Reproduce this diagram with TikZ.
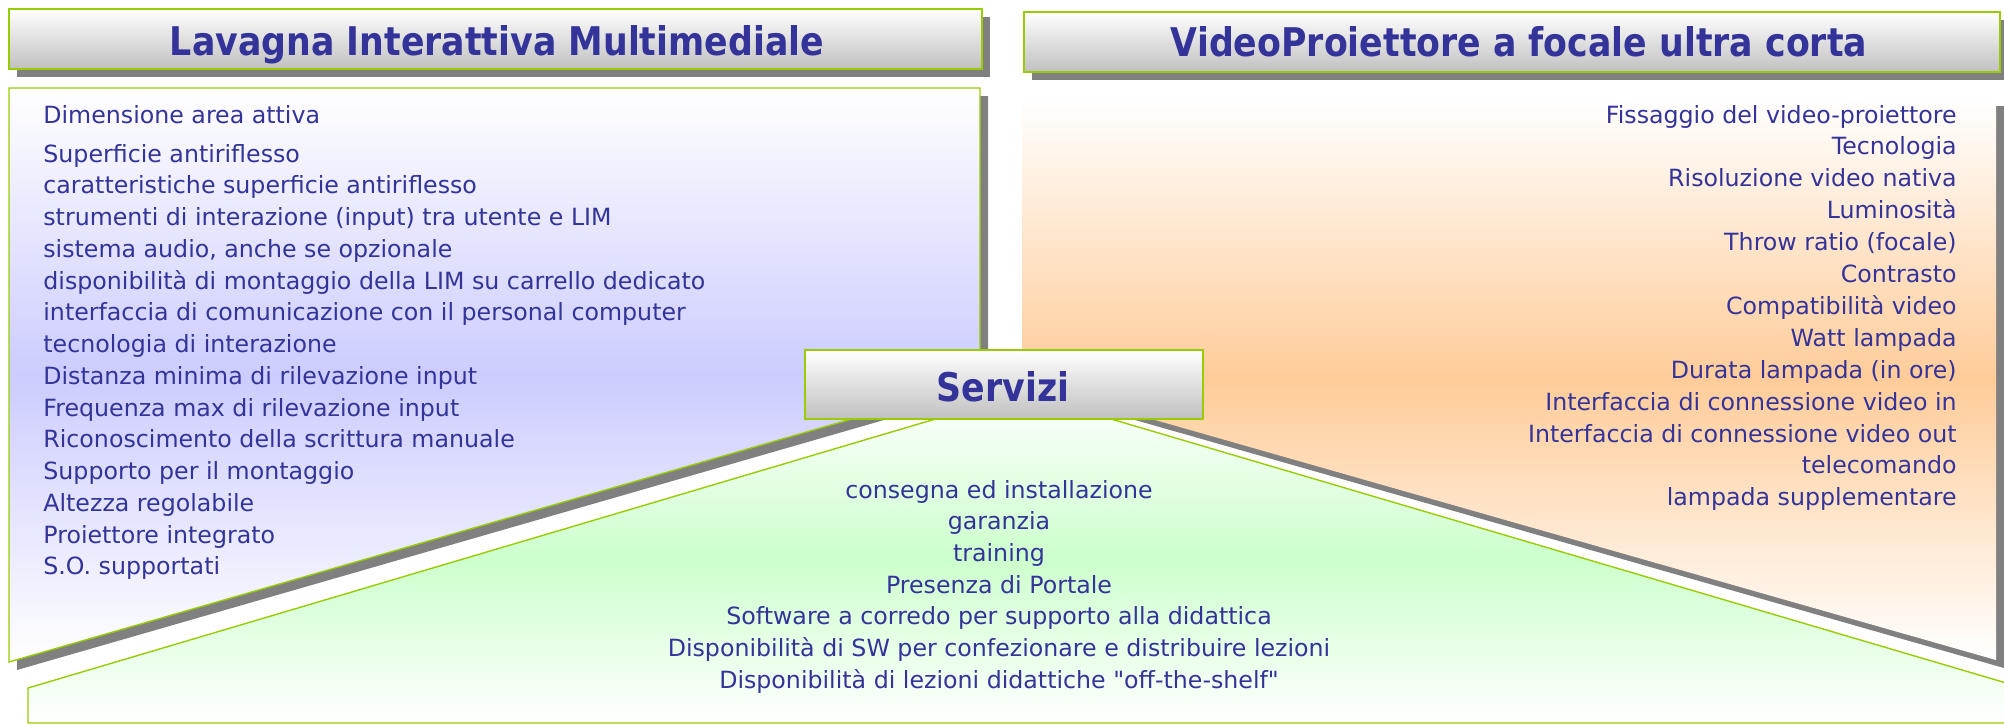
\documentclass[tikz,border=0pt]{standalone}
\usepackage{fontspec}
\setmainfont{DejaVu Sans}[Ligatures=TeXOff]
\newfontfamily\ttlfont[FakeStretch=0.88]{DejaVu Sans}
\usetikzlibrary{shadows}
\definecolor{lgreen}{HTML}{99CC00}
\definecolor{txt}{HTML}{333399}
\definecolor{lav}{HTML}{CCCCFF}
\definecolor{orng}{HTML}{FFCC99}
\definecolor{mint}{HTML}{CCFFCC}
\definecolor{shad}{HTML}{808080}
\definecolor{tgray}{HTML}{C0C0C0}
\begin{document}
\begin{tikzpicture}[x=0.5pt,y=-0.5pt,
  titlebox/.style={draw=lgreen, line width=0.7pt, top color=white, bottom color=tgray, inner sep=0pt},
  shadowed/.style={drop shadow={shadow xshift=4pt, shadow yshift=-4pt, fill=shad, opacity=1}},
  titletext/.style={text=txt, font=\ttlfont\bfseries\fontsize{19.75pt}{24pt}\selectfont, inner sep=0pt},
  item/.style={text=txt, font=\fontsize{11.85pt}{16pt}\selectfont, inner sep=0pt},
  panelline/.style={draw=lgreen, line width=0.7pt}
  ]
\useasboundingbox (0,0) rectangle (2004,725);

% left panel (LIM)
\fill[shad] (17,96) -- (988,96) -- (988,390) -- (17,670) -- cycle;
\path[panelline, top color=white, bottom color=white, middle color=lav]
  (9,88) -- (980,88) -- (980,382) -- (9,662) -- cycle;

% right panel (videoproiettore)
\fill[shad] (1030,106) -- (2004,106) -- (2004,668) -- (1030,390) -- cycle;
\path[top color=white, bottom color=white, middle color=orng]
  (1022,98) -- (1996,98) -- (1996,660) -- (1022,382) -- cycle;

% bottom panel (servizi)
\path[panelline, top color=white, bottom color=white, middle color=mint]
  (28,688) -- (1023,393) -- (2030,690) -- (2030,723) -- (28,723) -- cycle;

% title boxes
\node[titlebox, shadowed, minimum width=486.5pt, minimum height=30pt] (lbox) at (495.5,39) {};
\node[titletext, anchor=base] (ltitle) at (497,55) {Lavagna Interattiva Multimediale};

\node[titlebox, shadowed, minimum width=488pt, minimum height=30pt] (rbox) at (1512,42) {};
\node[titletext, anchor=base] (rtitle) at (1519,56) {VideoProiettore a focale ultra corta};

\node[titlebox, minimum width=199pt, minimum height=34.5pt] (sbox) at (1004,384.5) {};
\node[titletext, anchor=base] (stitle) at (1003,401) {Servizi};

% left list
\foreach \t [count=\i] in {
  {Dimensione area attiva},
  {Superficie antiriflesso},
  {caratteristiche superficie antiriflesso},
  {strumenti di interazione (input) tra utente e LIM},
  {sistema audio, anche se opzionale},
  {disponibilità di montaggio della LIM su carrello dedicato},
  {interfaccia di comunicazione con il personal computer},
  {tecnologia di interazione},
  {Distanza minima di rilevazione input},
  {Frequenza max di rilevazione input},
  {Riconoscimento della scrittura manuale},
  {Supporto per il montaggio},
  {Altezza regolabile},
  {Proiettore integrato},
  {S.O. supportati}} {
  \pgfmathsetmacro\yy{\i==1 ? 123 : 162+(\i-2)*31.75}
  \node[item, anchor=base west] (L\i) at (43,\yy) {\t};
}

% right list
\foreach \t [count=\i] in {
  {Fissaggio del video-proiettore},
  {Tecnologia},
  {Risoluzione video nativa},
  {Luminosità},
  {Throw ratio (focale)},
  {Contrasto},
  {Compatibilità video},
  {Watt lampada},
  {Durata lampada (in ore)},
  {Interfaccia di connessione video in},
  {Interfaccia di connessione video out},
  {telecomando},
  {lampada supplementare}} {
  \pgfmathsetmacro\yy{123+(\i-1)*31.9}
  \node[item, anchor=base east] (R\i) at (1957,\yy) {\t};
}

% services list
\foreach \t [count=\i] in {
  {consegna ed installazione},
  {garanzia},
  {training},
  {Presenza di Portale},
  {Software a corredo per supporto alla didattica},
  {Disponibilità di SW per confezionare e distribuire lezioni},
  {Disponibilità di lezioni didattiche "off-the-shelf"}} {
  \pgfmathsetmacro\yy{498+(\i-1)*31.7}
  \node[item, anchor=base] (S\i) at (999,\yy) {\t};
}
\end{tikzpicture}
\end{document}
